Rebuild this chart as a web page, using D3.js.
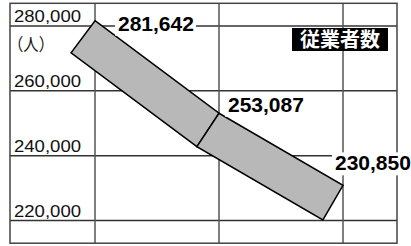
<!DOCTYPE html>
<html>
<head>
<meta charset="utf-8">
<script src="https://cdn.jsdelivr.net/npm/d3@7"></script>
<style>
  body { margin: 0; background: #fff; }
  svg { display: block; }
</style>
</head>
<body>
<div id="chart"></div>
<script>
// data
var categories = ["1", "2", "3"];
var workers = [281642, 253087, 230850];
var yTicks = [280000, 260000, 240000, 220000];
var yExtent = [213000, 287000];
var unitLabel = "（人）";
var seriesLabel = "従業者数";

var width = 411, height = 246;
var left = 10, right = 397;
var bandW = 40;

var svg = d3.select("#chart").append("svg")
    .attr("width", width)
    .attr("height", height);

var x = d3.scalePoint()
    .domain(categories)
    .range([95, 343]);

var y = d3.scaleLinear()
    .domain([220000, 280000])
    .range([220.5, 26]);

var grid = svg.append("g");

// horizontal grid
grid.selectAll("line.h")
    .data(yTicks)
  .enter().append("line")
    .attr("x1", left).attr("x2", right)
    .attr("y1", function(d) { return y(d); })
    .attr("y2", function(d) { return y(d); })
    .attr("stroke", "#333")
    .attr("stroke-width", 1.5);

// vertical grid at category positions
grid.selectAll("line.v")
    .data(categories)
  .enter().append("line")
    .attr("x1", function(d) { return x(d); })
    .attr("x2", function(d) { return x(d); })
    .attr("y1", y(yExtent[1])).attr("y2", y(yExtent[0]))
    .attr("stroke", "#555")
    .attr("stroke-width", 1.5);

// frame
grid.append("rect")
    .attr("x", left)
    .attr("y", y(yExtent[1]))
    .attr("width", right - left)
    .attr("height", y(yExtent[0]) - y(yExtent[1]))
    .attr("fill", "none")
    .attr("stroke", "#444")
    .attr("stroke-width", 1.5);

// y tick labels
svg.selectAll("text.tick")
    .data(yTicks)
  .enter().append("text")
    .attr("x", 14)
    .attr("y", function(d) { return y(d) - 4; })
    .attr("textLength", 67)
    .attr("lengthAdjust", "spacingAndGlyphs")
    .style("font-family", "Liberation Sans, Arial, sans-serif")
    .style("font-size", "17px")
    .attr("fill", "#111")
    .text(function(d) { return d3.format(",")(d); });

svg.append("text")
    .attr("x", 8)
    .attr("y", 51)
    .attr("textLength", 46)
    .attr("lengthAdjust", "spacingAndGlyphs")
    .style("font-family", "Noto Sans CJK JP, sans-serif")
    .style("font-size", "17px")
    .attr("fill", "#111")
    .text(unitLabel);

// ribbon segments, mitred at the joints
var pts = workers.map(function(v, i) { return [x(categories[i]), y(v)]; });
var normals = d3.pairs(pts).map(function(p) {
    var dx = p[1][0] - p[0][0], dy = p[1][1] - p[0][1];
    var len = Math.sqrt(dx * dx + dy * dy);
    return [-dy / len * bandW, dx / len * bandW];
});
// lower edge corner at each point
var lower = pts.map(function(p, i) {
    if (i === 0) return [p[0] + normals[0][0], p[1] + normals[0][1]];
    if (i === pts.length - 1) return [p[0] + normals[i - 1][0], p[1] + normals[i - 1][1]];
    var a = normals[i - 1], b = normals[i];
    var mx = a[0] + b[0], my = a[1] + b[1];
    var k = (bandW * bandW) / (mx * a[0] + my * a[1]);
    return [p[0] + mx * k, p[1] + my * k];
});
var segs = d3.range(pts.length - 1).map(function(i) {
    return [pts[i], pts[i + 1], lower[i + 1], lower[i]];
});

svg.selectAll("path.seg")
    .data(segs)
  .enter().append("path")
    .attr("d", function(d) { return d3.line()(d) + "Z"; })
    .attr("fill", "#b8b8b8")
    .attr("stroke", "#000")
    .attr("stroke-width", 1.5)
    .attr("stroke-linejoin", "miter");

// value labels
var labelOffsets = [[23, 10], [9, -1.5], [-8, -15]];
var vl = svg.selectAll("g.val")
    .data(workers)
  .enter().append("g");
vl.append("rect").attr("fill", "#fff");
vl.append("text")
    .attr("x", function(d, i) { return pts[i][0] + labelOffsets[i][0]; })
    .attr("y", function(d, i) { return pts[i][1] + labelOffsets[i][1]; })
    .style("font-family", "Liberation Sans, Arial, sans-serif")
    .style("font-size", "21px")
    .style("font-weight", "bold")
    .attr("fill", "#000")
    .text(function(d) { return d3.format(",")(d); });
vl.each(function() {
    var g = d3.select(this);
    var b = g.select("text").node().getBBox();
    g.select("rect")
        .attr("x", b.x - 3).attr("y", b.y + 1)
        .attr("width", b.width + 5).attr("height", b.height);
});

// series label box
var sl = svg.append("g");
var slt = sl.append("text")
    .attr("x", 340)
    .attr("y", 47)
    .attr("text-anchor", "middle")
    .style("font-family", "Noto Sans CJK JP, sans-serif")
    .style("font-size", "20px")
    .style("font-weight", "bold")
    .attr("fill", "#fff")
    .text(seriesLabel);
var sb = slt.node().getBBox();
sl.insert("rect", "text")
    .attr("x", sb.x - 8).attr("y", 28)
    .attr("width", sb.width + 16).attr("height", 23)
    .attr("fill", "#000");
</script>
</body>
</html>
